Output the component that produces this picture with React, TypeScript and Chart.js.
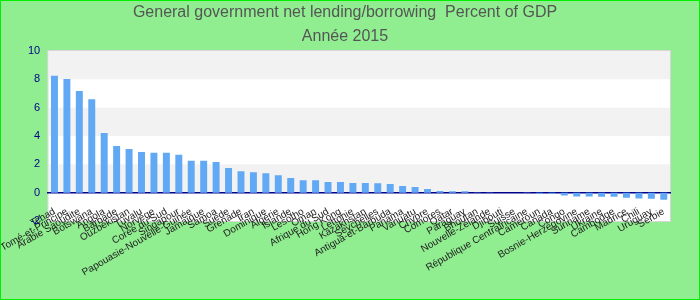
import React, { useEffect, useRef } from 'react';
import { Chart, registerables } from 'chart.js';

Chart.register(...registerables);

const FONT = '"Liberation Sans", Arial, sans-serif';

const titleLines = ['General government net lending/borrowing  Percent of GDP', 'Année 2015'];

const categories = [
  'Tchad', 'Sao Tomé-et-Principe', 'Arabie Saoudite', 'Botswana', 'Angola',
  'Barbade', 'Ouzbékistan', 'Tuvalu', 'Norvège', 'Corée du Sud',
  'Singapour', 'Papouasie-Nouvelle-Guinée', 'Jamaïque', 'Samoa', 'Suède',
  'Grenade', 'Iran', 'Dominique', 'Algérie', 'Islande',
  'Lesotho', 'Oman', 'Afrique du Sud', 'Hong Kong', 'Lettonie',
  'Kazakhstan', 'Seychelles', 'Antigua-et-Barbuda', 'Panama', 'Vanuatu',
  'Chypre', 'Comores', 'Qatar', 'Paraguay', 'Bhoutan',
  'Nouvelle-Zélande', 'Djibouti', 'Suisse', 'République Centrafricaine', 'Cameroun',
  'Canada', 'Congo', 'Bosnie-Herzégovine', 'Suriname', 'Ukraine',
  'Cambodge', 'Maurice', 'Chili', 'Uruguay', 'Serbie',
];

const values = [
  8.25, 8.02, 7.17, 6.6, 4.22,
  3.29, 3.08, 2.87, 2.81, 2.81,
  2.67, 2.26, 2.26, 2.17, 1.75,
  1.52, 1.44, 1.37, 1.23, 1.03,
  0.88, 0.88, 0.75, 0.75, 0.68,
  0.68, 0.67, 0.61, 0.47, 0.4,
  0.26, 0.12, 0.1, 0.1, 0.02,
  0.01, 0.0, -0.01, -0.02, -0.07,
  -0.08, -0.2, -0.27, -0.27, -0.28,
  -0.28, -0.35, -0.42, -0.43, -0.5,
];

const yMin = -2;
const yMax = 10;
const yStep = 2;

const bandsPlugin = {
  id: 'bands',
  beforeDraw(chart: any) {
    const { ctx, chartArea: a, scales } = chart;
    const y = scales.y;
    ctx.save();
    ctx.fillStyle = '#ffffff';
    ctx.fillRect(a.left, a.top, a.width, a.height);
    ctx.fillStyle = '#f2f2f2';
    const tv = y.ticks.map((t: any) => t.value);
    for (let i = 0; i < tv.length - 1; i++) {
      if ((tv.length - 2 - i) % 2 === 0) {
        const y1 = y.getPixelForValue(tv[i + 1]);
        const y0 = y.getPixelForValue(tv[i]);
        ctx.fillRect(a.left, y1, a.width, y0 - y1);
      }
    }
    ctx.strokeStyle = '#d6d6d6';
    ctx.lineWidth = 1;
    ctx.strokeRect(a.left - 0.5, a.top - 0.5, a.width + 1, a.height + 1);
    ctx.restore();
  },
};

export default function App() {
  const ref = useRef<HTMLCanvasElement | null>(null);

  useEffect(() => {
    if (!ref.current) return;
    const chart = new Chart(ref.current, {
      type: 'bar',
      data: {
        labels: categories,
        datasets: [
          {
            data: values,
            backgroundColor: '#62a9f5',
            barPercentage: 0.7,
            categoryPercentage: 0.8,
          },
        ],
      },
      options: {
        animation: false,
        responsive: false,
        layout: { padding: { left: 19, right: 29, top: 0, bottom: 78 } },
        plugins: {
          legend: { display: false },
          tooltip: { enabled: false },
          title: {
            display: true,
            text: titleLines,
            color: '#555555',
            font: { family: FONT, size: 16, weight: 'normal', lineHeight: 1.5 },
            padding: { top: 0, bottom: 2 },
          },
        },
        scales: {
          x: {
            position: { y: 0 } as any,
            grid: { display: false, drawTicks: false },
            border: { display: true, color: '#00008b', width: 1.5 },
            ticks: {
              autoSkip: false,
              maxRotation: 30,
              minRotation: 30,
              padding: 13,
              color: '#222222',
              font: { family: FONT, size: 10 },
            },
          },
          y: {
            min: yMin,
            max: yMax,
            grid: { display: false, drawTicks: false },
            border: { display: false },
            ticks: {
              stepSize: yStep,
              color: '#00008b',
              padding: 8,
              font: { family: FONT, size: 11 },
            },
          },
        },
      } as any,
      plugins: [bandsPlugin],
    });
    return () => chart.destroy();
  }, []);

  return (
    <div
      style={{
        position: 'fixed',
        left: 0,
        top: 0,
        width: 700,
        height: 300,
        boxSizing: 'border-box',
        border: '1px solid #00ee00',
        background: '#90ee90',
      }}
    >
      <canvas ref={ref} width={698} height={298} style={{ display: 'block' }} />
    </div>
  );
}
